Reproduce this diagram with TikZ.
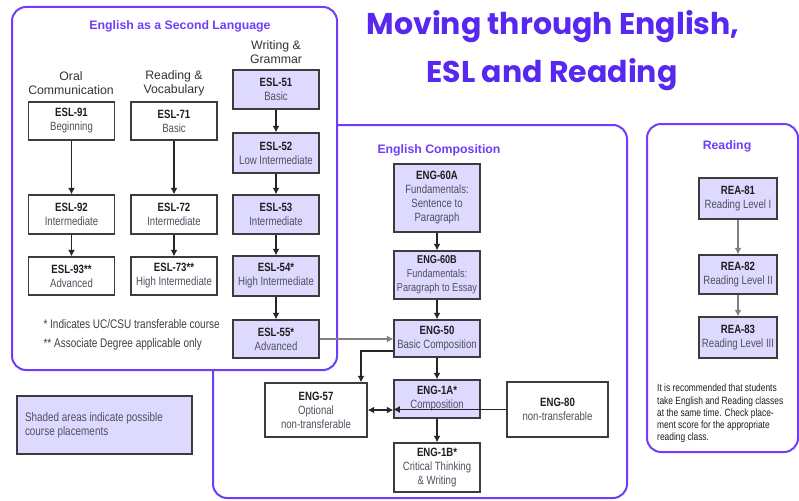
\documentclass[tikz,border=0pt]{standalone}
\usepackage{fontspec}
\setmainfont{Liberation Sans}
\newfontfamily\narrow[FakeStretch=0.8]{Liberation Sans}
\newfontfamily\handfont{Poppins}
\usetikzlibrary{arrows.meta}

\definecolor{panelline}{RGB}{110,62,250}
\definecolor{titleviolet}{RGB}{88,40,240}
\definecolor{lilac}{RGB}{222,217,255}
\definecolor{boxline}{RGB}{60,60,60}
\definecolor{codeblack}{RGB}{30,30,30}
\definecolor{subgray}{RGB}{80,80,95}

\newcommand{\crs}[2]{{\color{codeblack}\textbf{#1}}\\#2}

\begin{document}
\begin{tikzpicture}[x=1pt,y=-1pt]
  \tikzstyle{panel}=[draw=panelline, line width=2pt, rounded corners=14pt, fill=white]
  \tikzstyle{course}=[draw=boxline, line width=1.4pt, align=center, inner sep=0pt, minimum width=86, font=\narrow\fontsize{12}{14}\selectfont, text=subgray]
  \tikzstyle{placed}=[course, fill=lilac]
  \tikzstyle{suite}=[->,>={Latex[length=6.5pt,width=7pt]}, line width=1.2pt, draw=black!85]
  \tikzstyle{head}=[text=panelline, font=\bfseries\fontsize{12.3}{14}\selectfont]
  \tikzstyle{colhead}=[align=center, text=black!80, font=\fontsize{12.3}{14}\selectfont]
  \tikzstyle{note}=[anchor=west, text=black!75, font=\narrow\fontsize{12.5}{14}\selectfont]

  \useasboundingbox (0,0) rectangle (799,500);

  \draw[panel] (213,125) rectangle (627,498); % Composition panel
  \draw[panel] (12,7) rectangle (337,370); % ESL panel
  \draw[panel] (647,124) rectangle (798,452); % Reading panel

  % Title
  \node[anchor=base, text=titleviolet, font=\handfont\bfseries\fontsize{30}{40}\selectfont] (title1) at (553,35) {Moving through English,};
  \node[anchor=base, text=titleviolet, font=\handfont\bfseries\fontsize{30}{40}\selectfont] (title2) at (552,83) {ESL and Reading};

  % ESL panel
  \node[head] (eslhead) at (180,26) {English as a Second Language};
  \node[colhead] (oralhead) at (71,83) {Oral\\Communication};
  \node[colhead] (readhead) at (174,83) {Reading \&\\Vocabulary};
  \node[colhead] (writehead) at (276,52) {Writing \&\\Grammar};

  \node[course, minimum height=38] (esl91) at (71.5,121) {\crs{ESL-91}{Beginning}};
  \node[course, minimum height=39] (esl92) at (71.5,214.5) {\crs{ESL-92}{Intermediate}};
  \node[course, minimum height=38] (esl93) at (71.5,276) {\crs{ESL-93**}{Advanced}};
  \node[course, minimum height=38] (esl71) at (174,121) {\crs{ESL-71}{Basic}};
  \node[course, minimum height=39] (esl72) at (174,214.5) {\crs{ESL-72}{Intermediate}};
  \node[course, minimum height=38] (esl73) at (174,276) {\crs{ESL-73**}{High Intermediate}};
  \node[placed, minimum height=39] (esl51) at (276,89.5) {\crs{ESL-51}{Basic}};
  \node[placed, minimum height=40] (esl52) at (276,153) {\crs{ESL-52}{Low Intermediate}};
  \node[placed, minimum height=39] (esl53) at (276,214.5) {\crs{ESL-53}{Intermediate}};
  \node[placed, minimum height=40] (esl54) at (276,276) {\crs{ESL-54*}{High Intermediate}};
  \node[placed, minimum height=38] (esl55) at (276,339) {\crs{ESL-55*}{Advanced}};

  \node[note] (star1) at (40,324) {* Indicates UC/CSU transferable course};
  \node[note] (star2) at (40,344) {** Associate Degree applicable only};

  % Composition panel
  \node[head] (enghead) at (439,150) {English Composition};
  \node[placed, minimum height=68] (eng60a) at (437,198) {\crs{ENG-60A}{Fundamentals:\\Sentence to\\Paragraph}};
  \node[placed, minimum height=48, font=\narrow\fontsize{11.4}{14}\selectfont] (eng60b) at (437,275) {\crs{ENG-60B}{Fundamentals:\\Paragraph to Essay}};
  \node[placed, minimum height=37] (eng50) at (437,338.5) {\crs{ENG-50}{Basic Composition}};
  \node[placed, minimum height=38] (eng1a) at (437,399) {\crs{ENG-1A*}{Composition}};
  \node[course, minimum height=49] (eng1b) at (437,467.5) {\crs{ENG-1B*}{Critical Thinking\\\& Writing}};
  \node[course, minimum width=102, minimum height=54] (eng57) at (316,410) {\crs{ENG-57}{Optional\\non-transferable}};
  \node[course, minimum width=101, minimum height=55] (eng80) at (557.5,409.5) {\crs{ENG-80}{non-transferable}};

  % Reading panel
  \node[head] (reahead) at (727,146) {Reading};
  \node[placed, minimum width=78, minimum height=41] (rea81) at (738,198.5) {\crs{REA-81}{Reading Level I}};
  \node[placed, minimum width=78, minimum height=39] (rea82) at (738,274.5) {\crs{REA-82}{Reading Level II}};
  \node[placed, minimum width=78, minimum height=41] (rea83) at (738,337.5) {\crs{REA-83}{Reading Level III}};
  \node[anchor=north west, align=left, inner sep=0pt, text=codeblack, font=\narrow\fontsize{10.5}{12.2}\selectfont] (reanote) at (657,384) {It is recommended that students\\take English and Reading classes\\at the same time. Check place-\\ment score for the appropriate\\reading class.};

  % Legend
  \node[placed, minimum width=175, minimum height=58, align=flush left, text width=159, font=\narrow\fontsize{12.4}{14}\selectfont] (legend) at (104.5,425) {Shaded areas indicate possible\\course placements};

  % Arrows
  \draw[suite] (esl91) -- (esl92);
  \draw[suite] (esl92) -- (esl93);
  \draw[suite] (esl71) -- (esl72);
  \draw[suite] (esl72) -- (esl73);
  \draw[suite] (esl51) -- (esl52);
  \draw[suite] (esl52) -- (esl53);
  \draw[suite] (esl53) -- (esl54);
  \draw[suite] (esl54) -- (esl55);
  \draw[suite, draw=gray] (esl55.east) -- (esl55.east -| eng50.west); % ESL to composition
  \draw[suite] (eng60a) -- (eng60b);
  \draw[suite] (eng60b) -- (eng50);
  \draw[suite] (eng50) -- (eng1a);
  \draw[suite] ([yshift=-12.5]eng50.west) -| ([xshift=45]eng57.north);
  \draw[suite, <->] (eng57.east) -- (eng57.east -| eng1a.west);
  \draw[suite] (eng80.west) -- (eng80.west -| eng1a.west);
  \draw[suite] (eng1a) -- (eng1b);
  \draw[suite, draw=gray] (rea81) -- (rea82);
  \draw[suite, draw=gray] (rea82) -- (rea83);
\end{tikzpicture}
\end{document}
